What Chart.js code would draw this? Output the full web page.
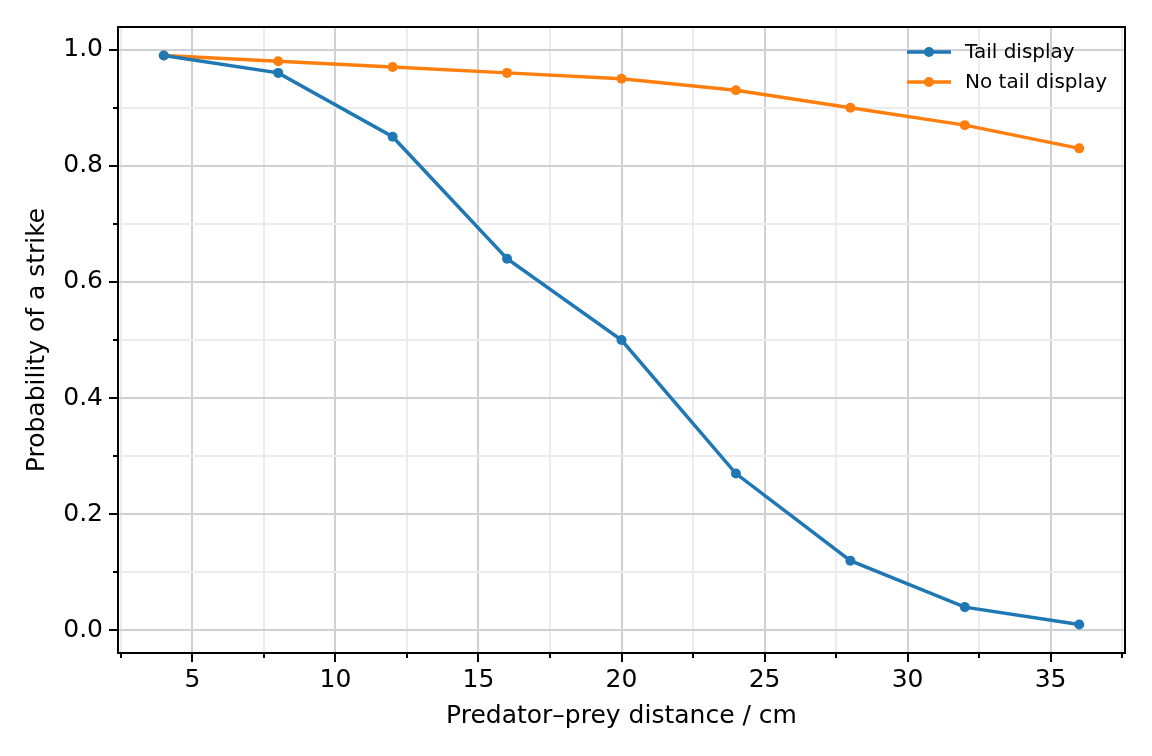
<!DOCTYPE html>
<html>
<head>
<meta charset="utf-8">
<script src="https://cdn.jsdelivr.net/npm/chart.js@4.4.0/dist/chart.umd.min.js"></script>
<style>
  html, body { margin: 0; padding: 0; background: #fff; }
  #wrap { width: 1152px; height: 756px; }
</style>
</head>
<body>
<div id="wrap"><canvas id="strikeChart" width="1152" height="756"></canvas></div>
<script>
// data
const distances = [4, 8, 12, 16, 20, 24, 28, 32, 36];
const tailDisplay = [0.99, 0.96, 0.85, 0.64, 0.50, 0.27, 0.12, 0.04, 0.01];
const noTailDisplay = [0.99, 0.98, 0.97, 0.96, 0.95, 0.93, 0.90, 0.87, 0.83];
const seriesNames = ['Tail display', 'No tail display'];
const xTicks = [2.5, 5, 7.5, 10, 12.5, 15, 17.5, 20, 22.5, 25, 27.5, 30, 32.5, 35, 37.5];
const yTicks = [0, 0.1, 0.2, 0.3, 0.4, 0.5, 0.6, 0.7, 0.8, 0.9, 1.0];

const FONT = 'DejaVu Sans';
const MAJOR_GRID = '#d0d0d8';
const MINOR_GRID = '#ececf0';

const isMajorX = v => Math.abs(v % 5) < 1e-6;
const isMajorY = v => Math.round(v * 10) % 2 === 0;

function toPoints(ys) {
  return distances.map((d, i) => ({ x: d, y: ys[i] }));
}

// tick marks, frame and legend drawn like the matplotlib original
const axisDecor = {
  id: 'axisDecor',
  afterDraw(chart) {
    const ctx = chart.ctx;
    const a = chart.chartArea;
    const x = chart.scales.x;
    const y = chart.scales.y;
    ctx.save();
    ctx.strokeStyle = '#000';
    ctx.lineWidth = 2;
    ctx.beginPath();
    x.ticks.forEach(t => {
      const px = Math.round(x.getPixelForValue(t.value));
      const len = isMajorX(t.value) ? 9 : 5;
      ctx.moveTo(px, a.bottom);
      ctx.lineTo(px, a.bottom + len);
    });
    y.ticks.forEach(t => {
      const py = Math.round(y.getPixelForValue(t.value));
      const len = isMajorY(t.value) ? 9 : 5;
      ctx.moveTo(a.left, py);
      ctx.lineTo(a.left - len, py);
    });
    ctx.stroke();
    ctx.strokeRect(a.left, a.top, a.right - a.left, a.bottom - a.top);

    // legend
    ctx.font = '20px "' + FONT + '"';
    ctx.textBaseline = 'middle';
    ctx.textAlign = 'left';
    chart.data.datasets.forEach((ds, i) => {
      const ly = 52 + i * 30;
      ctx.strokeStyle = ds.borderColor;
      ctx.lineWidth = 3.5;
      ctx.beginPath();
      ctx.moveTo(907, ly);
      ctx.lineTo(951, ly);
      ctx.stroke();
      ctx.fillStyle = ds.borderColor;
      ctx.beginPath();
      ctx.arc(929, ly, 5, 0, Math.PI * 2);
      ctx.fill();
      ctx.fillStyle = '#000';
      ctx.fillText(ds.label, 965, ly + 1);
    });
    ctx.restore();
  }
};

const ctx = document.getElementById('strikeChart').getContext('2d');
const chart = new Chart(ctx, {
  type: 'line',
  data: {
    datasets: [
      {
        label: seriesNames[0],
        data: toPoints(tailDisplay),
        borderColor: '#1f77b4',
        backgroundColor: '#1f77b4',
        borderWidth: 3.5,
        pointRadius: 5,
        pointBorderWidth: 0,
        tension: 0
      },
      {
        label: seriesNames[1],
        data: toPoints(noTailDisplay),
        borderColor: '#ff7f0e',
        backgroundColor: '#ff7f0e',
        borderWidth: 3.5,
        pointRadius: 5,
        pointBorderWidth: 0,
        tension: 0
      }
    ]
  },
  options: {
    responsive: false,
    devicePixelRatio: 1,
    animation: false,
    layout: { padding: { left: 0, top: 27, right: 27, bottom: 0 } },
    plugins: {
      legend: { display: false },
      tooltip: { enabled: false }
    },
    scales: {
      x: {
        type: 'linear',
        min: 2.4,
        max: 37.6,
        afterBuildTicks: s => { s.ticks = xTicks.map(v => ({ value: v })); },
        afterFit: s => { s.height = 103; s.paddingLeft = 0; s.paddingRight = 0; },
        border: { display: false },
        grid: {
          drawTicks: false,
          lineWidth: 2,
          color: c => isMajorX(c.tick.value) ? MAJOR_GRID : MINOR_GRID
        },
        ticks: {
          autoSkip: false,
          maxRotation: 0,
          padding: 12,
          color: '#000',
          font: { family: FONT, size: 25 },
          callback: v => isMajorX(v) ? String(v) : ''
        },
        title: {
          display: true,
          text: 'Predator–prey distance / cm',
          color: '#000',
          font: { family: FONT, size: 25 },
          padding: { top: 0, bottom: 25 }
        }
      },
      y: {
        type: 'linear',
        min: -0.039,
        max: 1.039,
        afterBuildTicks: s => { s.ticks = yTicks.map(v => ({ value: v })); },
        afterFit: s => { s.width = 118; s.paddingTop = 0; s.paddingBottom = 0; },
        border: { display: false },
        grid: {
          drawTicks: false,
          lineWidth: 2,
          color: c => isMajorY(c.tick.value) ? MAJOR_GRID : MINOR_GRID
        },
        ticks: {
          autoSkip: false,
          padding: 15,
          color: '#000',
          font: { family: FONT, size: 25 },
          callback: v => isMajorY(v) ? v.toFixed(1) : ''
        },
        title: {
          display: true,
          text: 'Probability of a strike',
          color: '#000',
          font: { family: FONT, size: 25 },
          padding: { top: 22, bottom: 0 }
        }
      }
    }
  },
  plugins: [axisDecor]
});
</script>
</body>
</html>
